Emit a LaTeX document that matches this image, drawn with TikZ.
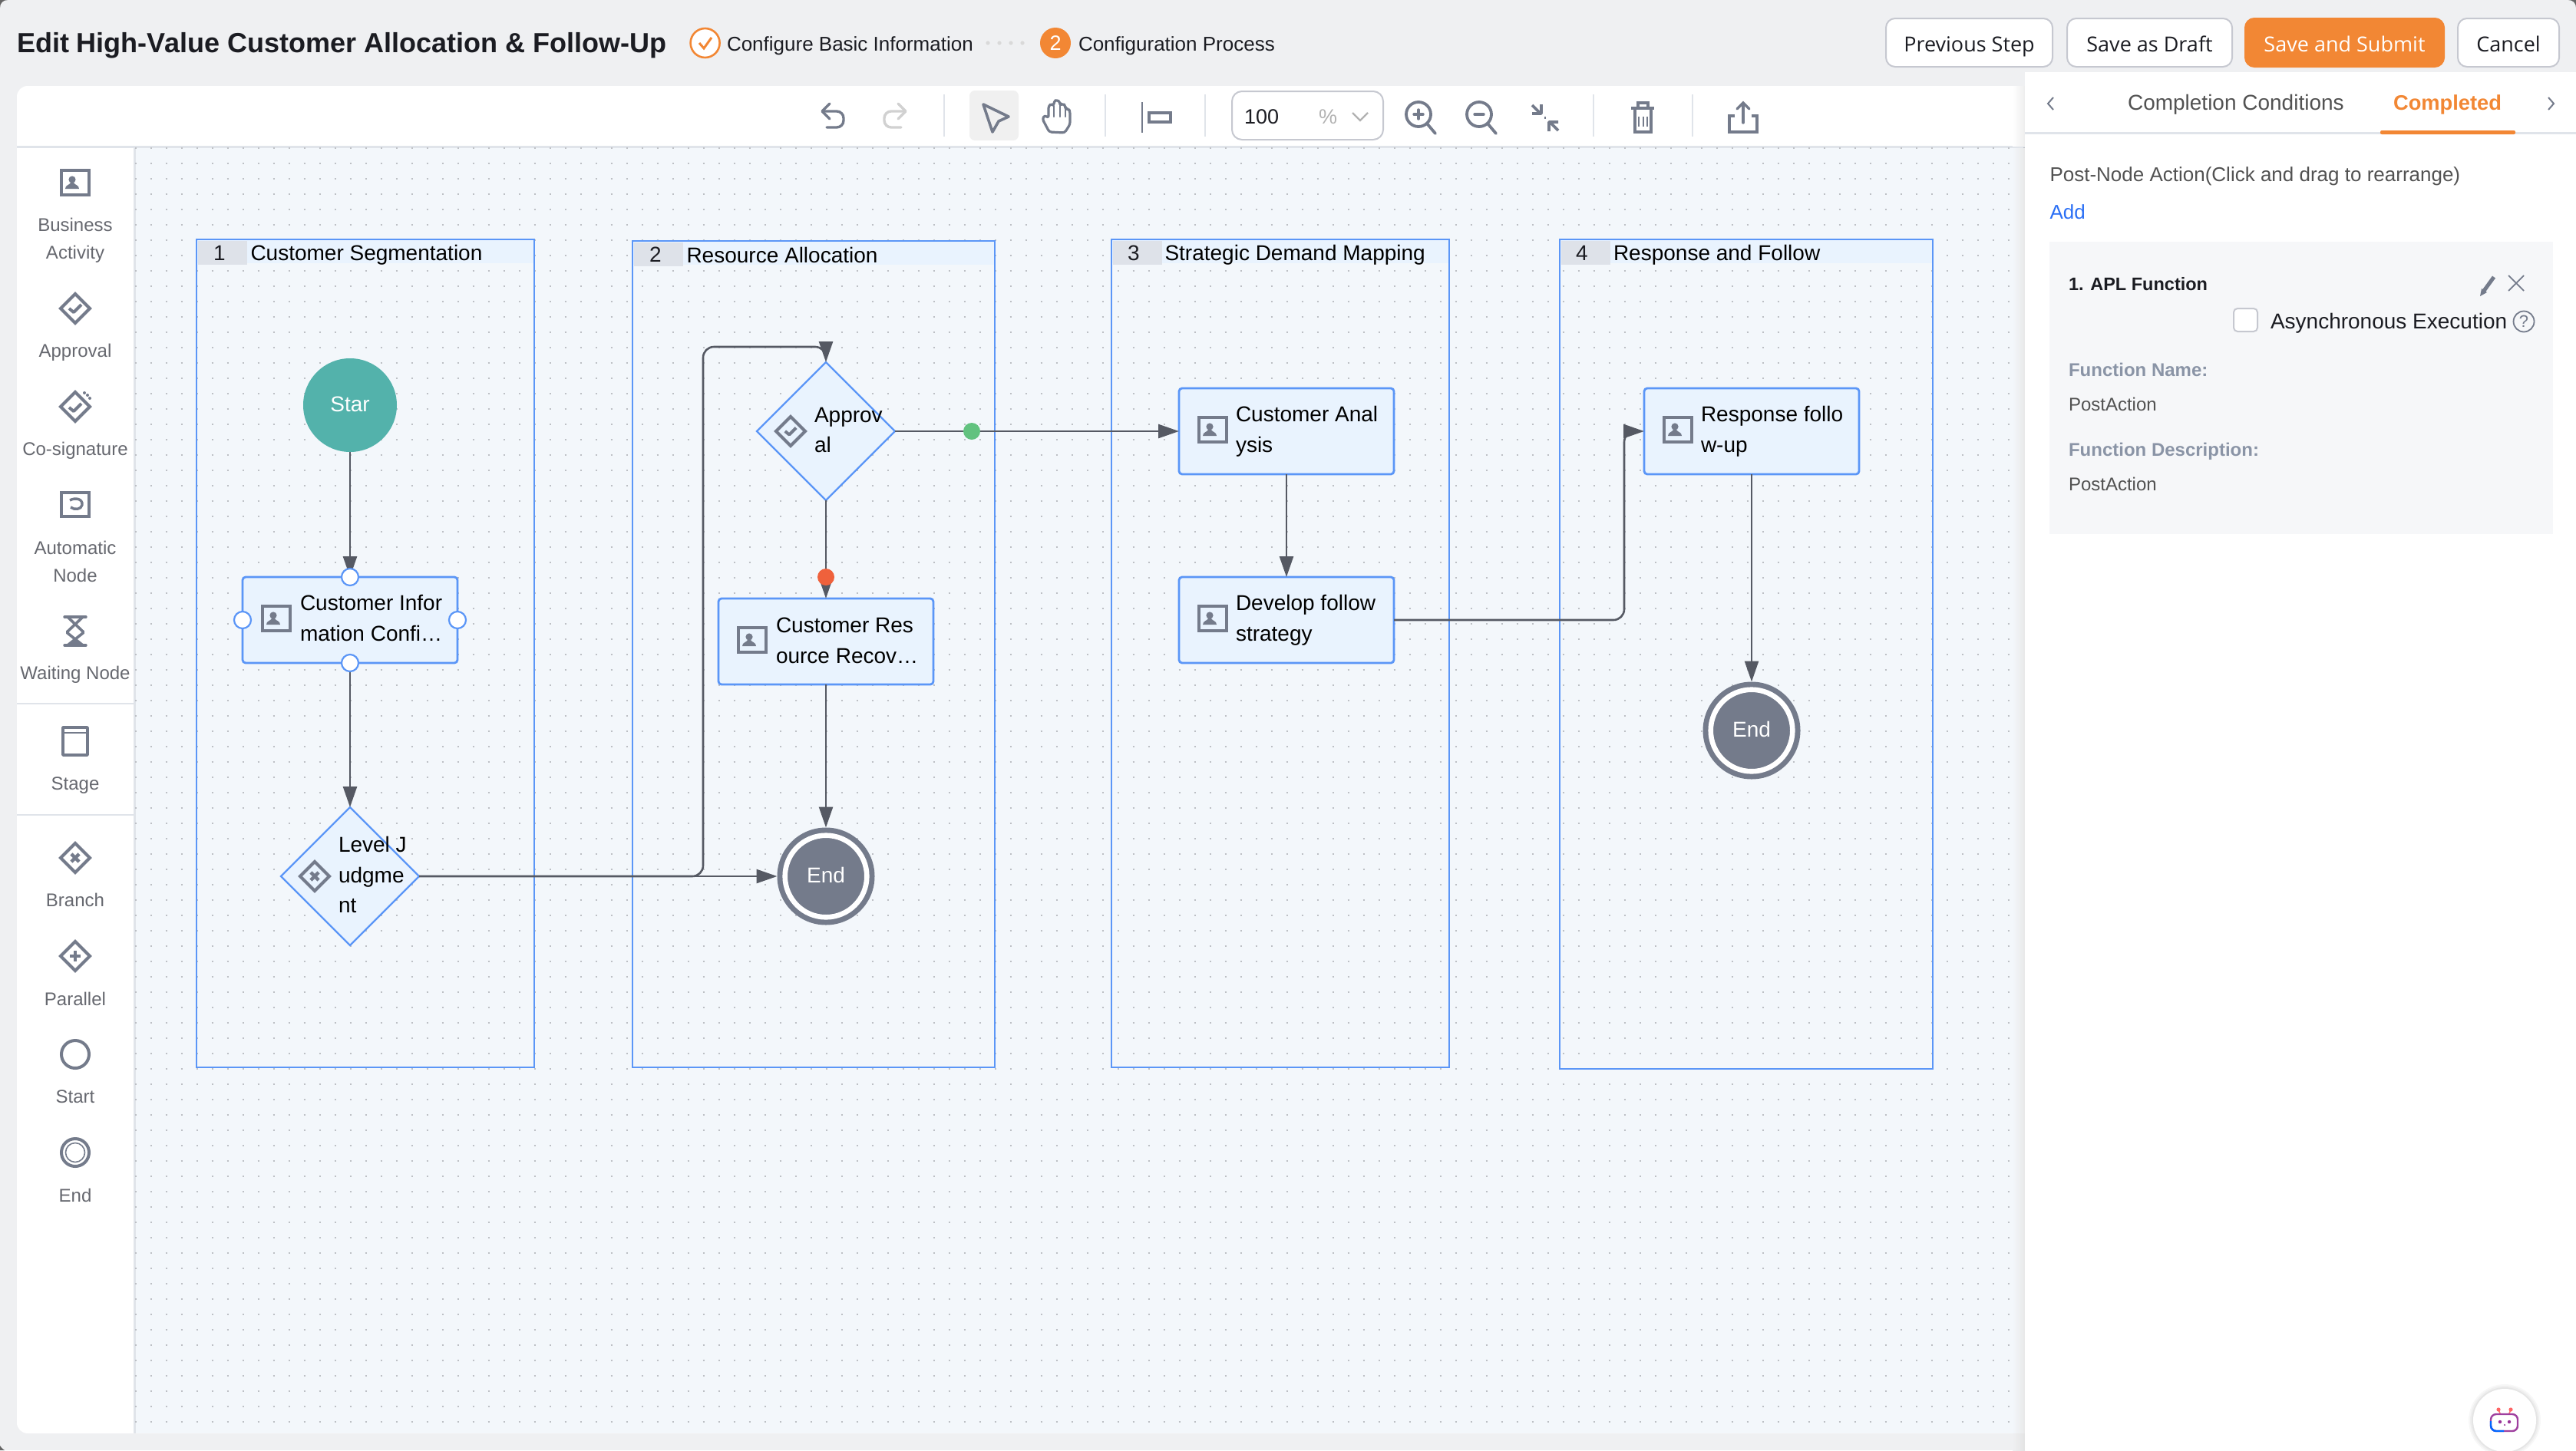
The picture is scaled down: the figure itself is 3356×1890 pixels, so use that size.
\documentclass[tikz,border=0pt]{standalone}
\usepackage{fontspec}
\setmainfont{Liberation Sans}
\newfontfamily\btnfont{Open Sans}
\usetikzlibrary{arrows.meta,shapes.geometric,calc}
\definecolor{pagebg}{HTML}{EFF0F2}
\definecolor{canvasbg}{HTML}{F3F7FB}
\definecolor{griddot}{HTML}{BDC0C5}
\definecolor{sepcol}{HTML}{E0E4EA}
\definecolor{lanecol}{HTML}{5B96F7}
\definecolor{nodefill}{HTML}{E9F3FE}
\definecolor{iconcol}{HTML}{747B8B}
\definecolor{linecol}{HTML}{555963}
\definecolor{orange}{HTML}{F28734}
\definecolor{numbox}{HTML}{DEE2E9}
\definecolor{sidetext}{HTML}{66686F}
\definecolor{darktext}{HTML}{1B1C22}
\definecolor{mutetext}{HTML}{8A94A6}
\definecolor{tealc}{HTML}{53B2AB}
\definecolor{greenc}{HTML}{62C27F}
\definecolor{redc}{HTML}{EF613C}
\definecolor{linkblue}{HTML}{2A6FF5}
\definecolor{cardbg}{HTML}{F6F7F9}
\definecolor{btnborder}{HTML}{C6C8D0}
\newcommand{\fs}[2]{\fontsize{#1}{#2}\selectfont}
\tikzset{
  x=1pt,y=-1pt,
  iconline/.style={draw=iconcol,line width=4pt,line join=round,line cap=round},
  iconfill/.style={fill=iconcol,draw=none},
  sep/.style={draw=sepcol,line width=2pt},
  gridrow/.style={draw=griddot,line width=2pt,dash pattern=on 2pt off 18pt},
  lanebox/.style={draw=lanecol,line width=2.4pt},
  taskbox/.style={rectangle,draw=lanecol,fill=nodefill,line width=2.8pt,rounded corners=4pt,minimum width=280pt,minimum height=112pt,inner sep=0pt,outer sep=0pt},
  gate/.style={diamond,draw=lanecol,fill=nodefill,line width=2.4pt,aspect=1,minimum width=180pt,minimum height=180pt,inner sep=0pt,outer sep=0pt},
  endnode/.style={circle,fill=iconcol,text=white,font=\fs{28}{34},minimum size=127pt,inner sep=0pt,outer sep=0pt,text height=20pt,text depth=4pt},
  endring/.style={draw=white,line width=6.6pt},
  starter/.style={circle,fill=tealc,text=white,font=\fs{28}{34},minimum size=122pt,inner sep=0pt,outer sep=0pt,text height=20pt,text depth=4pt},
  handle/.style={circle,draw=lanecol,fill=white,line width=2.2pt,minimum size=22pt,inner sep=0pt},
  flag/.style={circle,minimum size=22pt,inner sep=0pt},
  flow/.style={draw=linecol,line width=2.6pt,-{Triangle[length=27pt,width=18pt,fill=linecol]}},
  txt/.style={inner sep=0pt,outer sep=0pt,text=black},
  nodetxt/.style={txt,anchor=west,align=left,font=\fs{28}{39.5}},
  lanetitle/.style={txt,anchor=west,font=\fs{28}{34}},
  lanenum/.style={txt,font=\fs{28}{34},text=darktext},
  sidelabel/.style={txt,text=sidetext,font=\fs{24}{36},align=center},
  btn/.style={rectangle,draw=btnborder,fill=white,line width=2pt,rounded corners=12pt,minimum height=63pt,inner sep=0pt,outer sep=0pt,text=darktext,font=\btnfont\fs{27}{32},text height=25pt,text depth=2pt},
  steptxt/.style={txt,anchor=west,text=darktext,font=\fs{26}{32}},
  paneltxt/.style={txt,anchor=west,font=\fs{28}{32}},
  smalltxt/.style={txt,anchor=west,font=\fs{24}{30}},
  personicon/.pic={
    \draw[iconline,line cap=butt,line join=miter] (-18,-16) rectangle (18,16);
    \fill[iconcol] (-4,-4) circle[radius=4.6pt];
    \fill[iconcol] (-13,8) .. controls (-13,3) and (-7,3) .. (-6,0) -- (-2,0) .. controls (-1,3) and (5,3) .. (5,8) -- cycle;
  },
  diaicon/.pic={
    \draw[iconline,line join=miter] (0,-19) -- (19,0) -- (0,19) -- (-19,0) -- cycle;
  },
  checkmark/.pic={
    \draw[draw=iconcol,line width=4pt,line join=round] (-8,0) -- (-2,5) -- (8,-5);
  },
  crossmark/.pic={
    \draw[draw=iconcol,line width=4.4pt] (-6,-6) -- (6,6) (6,-6) -- (-6,6);
  },
  plusmark/.pic={
    \draw[draw=iconcol,line width=4.4pt] (-8,0) -- (8,0) (0,-8) -- (0,8);
  },
}
\begin{document}
\begin{tikzpicture}
\useasboundingbox (0,0) rectangle (3356,1890);
% page
\fill[pagebg] (0,0) rectangle (3356,1890);
% white panel & canvas
\fill[white,rounded corners=14pt] (22,112) rectangle (2660,1868);
\fill[canvasbg] (176,192) rectangle (2660,1868);
\fill[sepcol] (22,190) rectangle (2640,193);
\fill[sepcol] (174,190) rectangle (177,1868);
% grid dots
\foreach \yy in {192.7,212.7,...,1866} {
  \draw[gridrow] (175.7,\yy) -- (2640,\yy);
}
% panel shadow
\shade[left color=white,right color=black!7] (2622,112) rectangle (2638,190);
\shade[left color=canvasbg,right color=black!9] (2622,193) rectangle (2638,1868);
\shade[left color=pagebg,right color=black!11] (2622,1868) rectangle (2638,1890);
% right panel
\fill[white] (2638,94) rectangle (3356,1890);
% corners
\fill[black!60] (0,0) -- (10,0) .. controls (4,0) and (0,4) .. (0,10) -- cycle;
\fill[black!60] (3356,0) -- (3346,0) .. controls (3352,0) and (3356,4) .. (3356,10) -- cycle;
\fill[black!60] (0,1890) -- (6,1890) .. controls (3,1888) and (1,1886) .. (0,1884) -- cycle;
% title bar
\node[txt,anchor=west,text=darktext,font=\bfseries\fs{36}{42}] (title) at (22,59) {Edit High-Value Customer Allocation \& Follow-Up};
\draw[draw=orange,line width=2.6pt,fill=white] (918.6,56) circle[radius=19pt];
\draw[draw=orange,line width=3pt] (911,56) -- (917,63) -- (927,49);
\node[steptxt] (step1) at (947,59.5) {Configure Basic Information};
\foreach \xx in {1287,1302,1317,1332} { \fill[black!15] (\xx,56) circle[radius=2.6pt]; }
\node[circle,fill=orange,text=white,minimum size=40pt,inner sep=0pt,font=\fs{27}{32}] (step2dot) at (1375,56) {2};
\node[steptxt] (step2) at (1405,59.5) {Configuration Process};
% buttons
\node[btn,minimum width=217pt] (bprev) at (2565.5,55.5) {Previous Step};
\node[btn,minimum width=215pt] (bdraft) at (2800.5,55.5) {Save as Draft};
\node[btn,minimum width=259pt,fill=orange,draw=orange,text=white] (bsubmit) at (3054.5,55.5) {Save and Submit};
\node[btn,minimum width=132pt] (bcancel) at (3268,55.5) {Cancel};
% toolbar
\draw[iconline,line width=3.4pt,rounded corners=9pt] (1073,145) -- (1099,145) -- (1099,166) -- (1077,166);
\draw[iconline,line width=3.4pt] (1081,135) -- (1071,145) -- (1081,155);
\draw[draw=black!18,line width=3.4pt,line cap=round,rounded corners=9pt] (1178,145) -- (1152,145) -- (1152,166) -- (1174,166);
\draw[draw=black!18,line width=3.4pt,line cap=round,line join=round] (1170,135) -- (1180,145) -- (1170,155);
\foreach \xx in {1230,1440,1570,2076,2205} { \draw[sep,line width=1.5pt] (\xx,123) -- (\xx,178); }
\fill[black!6,rounded corners=7pt] (1263,118) rectangle (1327,183);
\draw[iconline,line width=3.6pt] (1281,136) -- (1314,152) -- (1301,158) -- (1293,172) -- cycle;
\draw[iconline,line width=3.2pt,rounded corners=3pt] (1367,172) -- (1358,155) -- (1361,150) -- (1366,154) -- (1366,138) -- (1370,135) -- (1373,138) -- (1373,132) -- (1377,130) -- (1381,133) -- (1381,137) -- (1385,135) -- (1388,138) -- (1388,142) -- (1392,142) -- (1394,145) -- (1394,162) -- (1387,173) -- cycle;
\draw[iconline,line width=2.4pt] (1373,138) -- (1373,152) (1381,137) -- (1381,152) (1388,142) -- (1388,152);
\draw[iconline,line width=2.8pt,line cap=butt] (1488,133) -- (1488,173);
\draw[iconline,line join=miter,line cap=butt,line width=4pt] (1497,147) rectangle (1525,159);
\node[rectangle,draw=btnborder,fill=white,line width=2pt,rounded corners=13pt,minimum width=197pt,minimum height=63pt,inner sep=0pt] (zoombox) at (1703.5,150.5) {};
\node[txt,anchor=west,text=darktext,font=\fs{27}{32}] (zoomval) at (1621,152) {100};
\node[txt,text=black!30,font=\fs{27}{32}] (zoompct) at (1730,152) {\%};
\draw[draw=black!30,line width=2.2pt] (1762,147) -- (1772,157) -- (1782,147);
\foreach \xx/\yy in {1848/149,1927/149} {
  \draw[iconline,line width=3.8pt] (\xx,\yy) circle[radius=16pt];
  \draw[iconline,line width=3.8pt] (\xx+11,\yy+12) -- (\xx+22,\yy+25);
  \draw[iconline,line width=3.4pt] (\xx-6,\yy) -- (\xx+6,\yy);
}
\draw[iconline,line width=3.4pt] (1848,143) -- (1848,155);
\draw[iconline,line width=3.6pt,line cap=butt] (1996,137) -- (2007,148) (1996,148) -- (2008,148) -- (2008,136);
\draw[iconline,line width=3.6pt,line cap=butt] (2030,170) -- (2019,159) (2030,159) -- (2018,159) -- (2018,171);
\fill[iconcol] (2011.5,152) rectangle (2014,155);
\draw[iconline,line width=3.6pt,line cap=butt,line join=miter] (2125,141) -- (2155,141);
\draw[iconline,line width=3.6pt,line cap=butt,line join=miter] (2134,140) -- (2134,134) -- (2147,134) -- (2147,140);
\draw[iconline,line width=4pt,line join=miter] (2130,144) -- (2130,172) -- (2151,172) -- (2151,144);
\draw[draw=iconcol,line width=2pt] (2135,152) -- (2135,165) (2140.5,152) -- (2140.5,165) (2146,152) -- (2146,165);
\draw[iconline,line width=3.6pt,line join=miter,line cap=butt] (2260,151) -- (2253,151) -- (2253,172) -- (2289,172) -- (2289,151) -- (2282,151);
\draw[iconline,line width=3.4pt] (2271,160) -- (2271,135);
\draw[iconline,line width=3.4pt,line join=miter] (2263,142) -- (2271,134) -- (2279,142);
% sidebar
\pic at (98,238) {personicon};
\node[sidelabel] (sbusiness) at (98,313.5) {Business\\Activity};
\pic at (98,402) {diaicon}; \pic at (98,402) {checkmark};
\node[sidelabel] (sapproval) at (98,459) {Approval};
\pic at (98,530) {diaicon}; \pic at (98,531) {checkmark};
\fill[iconcol] (110,512) circle[radius=2pt] (114,515) circle[radius=2pt] (117,519) circle[radius=2pt];
\node[sidelabel] (scosign) at (98,587) {Co-signature};
\draw[iconline,line cap=butt,line join=miter] (80,642) rectangle (116,673);
\draw[draw=iconcol,line width=3.4pt] (91,652) .. controls (98,648) and (108,650) .. (107,658) .. controls (106,664) and (97,665) .. (92,661);
\node[sidelabel] (sauto) at (98,732) {Automatic\\Node};
\draw[iconline,line width=3.4pt,line join=miter] (84,804) -- (112,804) (84,841) -- (112,841);
\draw[iconline,line width=3.6pt,line join=miter] (88,804) -- (108,823) -- (108,825) -- (88,841) (108,804) -- (88,823) -- (88,825) -- (108,841);
\fill[iconcol] (88,841) -- (98,833) -- (108,841) -- cycle;
\node[sidelabel] (swait) at (98,879) {Waiting Node};
\draw[sep] (22,917) -- (174,917);
\draw[iconline,line cap=butt,line join=round,line width=3.6pt] (82,948) rectangle (114,984);
\draw[iconline,line cap=butt,line width=2.8pt] (82,955) -- (114,955);
\node[sidelabel] (sstage) at (98,1024) {Stage};
\draw[sep] (22,1062) -- (174,1062);
\pic at (98,1118) {diaicon}; \pic[scale=0.85] at (98,1118) {crossmark};
\node[sidelabel] (sbranch) at (98,1173) {Branch};
\pic at (98,1246) {diaicon}; \pic[scale=0.85] at (98,1246) {plusmark};
\node[sidelabel] (sparallel) at (98,1302) {Parallel};
\draw[draw=iconcol,line width=4pt] (98,1374) circle[radius=18pt];
\node[sidelabel] (sstart) at (98,1429) {Start};
\draw[draw=iconcol,line width=4pt] (98,1502) circle[radius=18pt];
\draw[draw=iconcol,line width=1.6pt] (98,1502) circle[radius=12.5pt];
\node[sidelabel] (send) at (98,1557.5) {End};
% lanes
\foreach \l/\r/\t/\b in {256/696/312/1391,824/1296/314/1391,1448/1888/312/1391,2032/2518/312/1393} {
  \fill[nodefill] (\l,\t) rectangle (\r,\t+31);
  \fill[numbox] (\l+2,\t+2) rectangle (\l+66,\t+33);
  \draw[lanebox] (\l,\t) rectangle (\r,\b);
}
\node[lanenum] (n1) at (286,330) {1};
\node[lanetitle] (t1) at (326.5,332) {Customer Segmentation};
\node[lanenum] (n2) at (854,332) {2};
\node[lanetitle] (t2) at (894.5,332) {Resource Allocation};
\node[lanenum] (n3) at (1477,330) {3};
\node[lanetitle] (t3) at (1517.5,332) {Strategic Demand Mapping};
\node[lanenum] (n4) at (2061,330) {4};
\node[lanetitle] (t4) at (2102,332) {Response and Follow};
% nodes
\node[starter] (star) at (456,528) {Star};
\node[taskbox] (info) at (456,808) {};
\node[gate] (level) at (456,1142) {};
\node[gate] (appr) at (1076,562) {};
\node[taskbox] (res) at (1076,836) {};
\node[endnode] (end1) at (1076,1142) {End};
\draw[endring] (end1.center) circle[radius=53.3pt];
\node[taskbox] (anal) at (1676,562) {};
\node[taskbox] (dev) at (1676,808) {};
\node[taskbox] (resp) at (2282,562) {};
\node[endnode] (end2) at (2282,952) {End};
\draw[endring] (end2.center) circle[radius=53.3pt];
% task icons & texts
\pic at (360,806) {personicon};
\node[nodetxt] (infot) at (391,805.5) {Customer Infor\\mation Confi…};
\pic at (980,834) {personicon};
\node[nodetxt] (rest) at (1011,835) {Customer Res\\ource Recov…};
\pic at (1580,560) {personicon};
\node[nodetxt] (analt) at (1610,562.5) {Customer Anal\\ysis};
\pic at (1580,806) {personicon};
\node[nodetxt] (devt) at (1610,808) {Develop follow\\strategy};
\pic at (2186,560) {personicon};
\node[nodetxt] (respt) at (2216,562.5) {Response follo\\w-up};
\pic at (1030,562) {diaicon}; \pic[scale=0.9] at (1030,562) {checkmark};
\node[nodetxt] (apprt) at (1061,560.5) {Approv\\al};
\pic at (410,1142) {diaicon}; \pic[scale=0.85] at (410,1142) {crossmark};
\node[nodetxt] (levelt) at (441,1140) {Level J\\udgme\\nt};
% connectors
\draw[flow] (star) -- (info);
\draw[flow] (info) -- (level);
\draw[flow] (level) -- (end1);
\draw[flow,rounded corners=14pt] (level.east) -- ($(level.east)+(370,0)$) |- ($(appr.north)+(0,-20)$) -- (appr.north);
\draw[flow] (appr) -- (res);
\draw[flow] (appr) -- (anal);
\draw[flow] (res) -- (end1);
\draw[flow] (anal) -- (dev);
\draw[flow,rounded corners=14pt] (dev.east) -- ($(dev.east)+(300,0)$) |- (resp.west);
\draw[flow] (resp) -- (end2);
% handles, flags
\node[handle] (h1) at (info.north) {};
\node[handle] (h2) at (info.south) {};
\node[handle] (h3) at (info.west) {};
\node[handle] (h4) at (info.east) {};
\node[flag,fill=greenc] (fg) at (1266,562) {};
\node[flag,fill=redc] (fr) at (1076,752) {};
% right panel
\draw[draw=iconcol,line width=2pt] (2675,127) -- (2668,135) -- (2675,143);
\draw[draw=iconcol,line width=2pt] (3320,127) -- (3327,135) -- (3320,143);
\node[paneltxt,text=black!68] (tab1) at (2772,136) {Completion Conditions};
\node[paneltxt,text=orange,font=\bfseries\fs{27.3}{32}] (tab2) at (3118,136) {Completed};
\fill[sepcol] (2638,172) rectangle (3356,175);
\fill[orange,rounded corners=2pt] (3101,170) rectangle (3277,175);
\node[paneltxt,text=black!68,font=\fs{26}{32}] (post) at (2670.5,230) {Post-Node Action(Click and drag to rearrange)};
\node[paneltxt,text=linkblue,font=\fs{26}{32}] (add) at (2670.5,276) {Add};
\fill[cardbg] (2670,315) rectangle (3326,696);
\node[smalltxt,text=darktext,font=\bfseries\fs{23.5}{30}] (apl) at (2695,370) {1. APL Function};
\draw[draw=iconcol,line width=5pt] (3236,379) -- (3249,361);
\fill[iconcol] (3231,386) -- (3233,376) -- (3240,381) -- cycle;
\draw[draw=iconcol,line width=1.8pt] (3268,359) -- (3288,379) (3288,359) -- (3268,379);
\draw[draw=btnborder,fill=white,line width=2pt,rounded corners=5pt] (2910,402) rectangle (2941,432);
\node[paneltxt,text=darktext] (async) at (2958,421) {Asynchronous Execution};
\node[circle,draw=iconcol,line width=1.8pt,minimum size=27pt,inner sep=0pt,text=iconcol,font=\fs{22}{24}] (qm) at (3288,419) {?};
\node[smalltxt,text=mutetext,font=\bfseries\fs{24}{30}] (fnl) at (2695,482) {Function Name:};
\node[smalltxt,text=black!68] (fnv) at (2695,527) {PostAction};
\node[smalltxt,text=mutetext,font=\bfseries\fs{24}{30}] (fdl) at (2695,588) {Function Description:};
\node[smalltxt,text=black!68] (fdv) at (2695,631) {PostAction};
% assistant
\foreach \rr/\op in {47/0.03,45/0.03,43/0.04} { \fill[black,opacity=\op] (3263,1851) circle[radius=\rr pt]; }
\fill[white] (3263,1851) circle[radius=41pt];
\draw[draw=red!55!white,line width=1.6pt] (3257,1842) -- (3255,1837) (3269,1842) -- (3271,1837);
\fill[red!60!white] (3255,1837) circle[radius=2.6pt] (3271,1837) circle[radius=2.6pt];
\draw[draw=violet!75!white,line width=2.4pt,rounded corners=7pt] (3245,1843) rectangle (3280,1865);
\draw[draw=blue!60!cyan,line width=2.4pt,rounded corners=7pt] (3245,1852) -- (3245,1865) -- (3262,1865);
\fill[violet!80!white] (3257,1853) circle[radius=2.2pt] (3269,1853) circle[radius=2.2pt] (3263,1857) circle[radius=1.2pt];
\end{tikzpicture}
\end{document}
